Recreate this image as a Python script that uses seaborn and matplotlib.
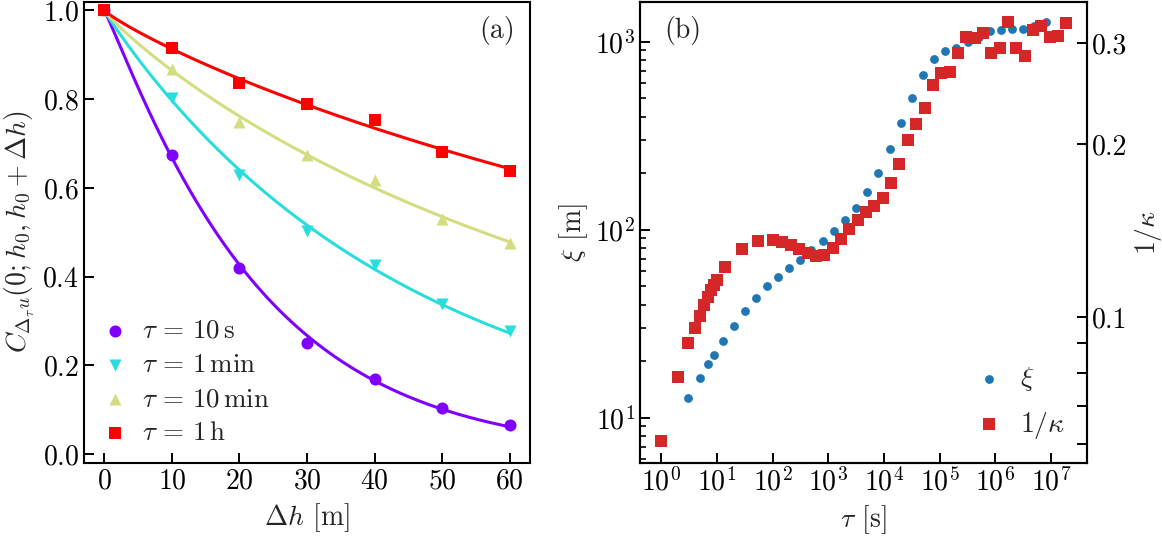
import numpy as np
import seaborn as sns
import matplotlib.pyplot as plt
from matplotlib.ticker import NullLocator, NullFormatter, LogLocator

# ---- panel (a): correlation vs height separation ----
dh = [0, 10, 20, 30, 40, 50, 60]
c_10s = [1.0, 0.675, 0.420, 0.251, 0.169, 0.103, 0.065]
c_1min = [1.0, 0.803, 0.628, 0.503, 0.427, 0.338, 0.278]
c_10min = [1.0, 0.868, 0.748, 0.675, 0.618, 0.530, 0.475]
c_1h = [1.0, 0.915, 0.836, 0.788, 0.754, 0.680, 0.637]
labels_a = [r"$\tau\,=\,10\,\mathrm{s}$", r"$\tau\,=\,1\,\mathrm{min}$",
            r"$\tau\,=\,10\,\mathrm{min}$", r"$\tau\,=\,1\,\mathrm{h}$"]

# ---- panel (b): xi and 1/kappa vs tau ----
tau_xi = [3.0, 5.0, 7.0, 9.1, 13.2, 20.2, 31.9, 50.2, 79.3, 125, 199, 314, 495,
          789, 1245, 1963, 3141, 4955, 7907, 12600, 19900, 31300, 49400, 79300,
          126000, 199000, 318000, 509000, 802000, 1.26e6, 2.02e6, 3.18e6,
          5.01e6, 7.91e6]
xi = [12.7, 16.3, 19.2, 21.6, 25.5, 30.6, 37.1, 43.4, 50.0, 56.2, 62.5, 69.3,
      78.0, 87.3, 98.9, 112.7, 130.0, 157.8, 199.5, 268.5, 370.7, 503.5, 665.3,
      805.4, 895.4, 929, 995, 1054, 1140, 1153, 1172, 1169, 1213, 1274]
tau_kappa = [1, 2, 3, 4, 5, 6, 7, 8, 9, 10, 14, 28, 56, 104, 149, 214, 305, 437,
             609, 847, 1195, 1690, 2383, 3357, 4753, 6700, 9440, 13430, 18700,
             27000, 38100, 53700, 76000, 107000, 151000, 214000, 301000, 425000,
             601000, 847000, 1.19e6, 1.69e6, 2.38e6, 3.36e6, 4.75e6, 6.7e6,
             9.44e6, 1.34e7, 1.88e7]
inv_kappa = [0.0608, 0.0787, 0.0902, 0.0956, 0.1006, 0.1049, 0.1083, 0.1115,
             0.1138, 0.1161, 0.1222, 0.1313, 0.1359, 0.1363, 0.1353, 0.1337,
             0.1313, 0.1292, 0.1279, 0.1283, 0.1321, 0.1367, 0.1424, 0.1476,
             0.1527, 0.1562, 0.1615, 0.1716, 0.1848, 0.2032, 0.2170, 0.2311,
             0.2538, 0.2660, 0.2671, 0.2888, 0.3080, 0.3061, 0.3122, 0.2888,
             0.2940, 0.3267, 0.2947, 0.2854, 0.3164, 0.3219, 0.3080, 0.3089,
             0.3250]

sns.set_style("ticks")
plt.rcParams.update({
    'font.family': 'serif', 'font.serif': ['cmr10'],
    'mathtext.fontset': 'cm', 'axes.formatter.use_mathtext': True,
    'axes.unicode_minus': False, 'font.size': 20,
    'axes.linewidth': 1.5,
    'xtick.direction': 'in', 'ytick.direction': 'in',
    'xtick.major.size': 7, 'ytick.major.size': 7,
    'xtick.minor.size': 4, 'ytick.minor.size': 4,
    'xtick.major.width': 1.4, 'ytick.major.width': 1.4,
    'xtick.minor.width': 1.2, 'ytick.minor.width': 1.2,
    'xtick.labelsize': 20, 'ytick.labelsize': 20, 'axes.labelsize': 20,
    'axes.edgecolor': 'black', 'xtick.color': 'black', 'ytick.color': 'black',
})


def stretched_fit(x, c):
    # fit exp(-(x/l)^b) to the measured points
    x = np.asarray(x[1:], float)
    c = np.asarray(c[1:], float)
    b, a = np.polyfit(np.log(x), np.log(-np.log(c)), 1)
    ell = np.exp(-a / b)
    xs = np.linspace(0, max(x), 300)
    return xs, np.exp(-(xs / ell) ** b)


fig = plt.figure(figsize=(11.62, 5.40), dpi=100)
ax = fig.add_axes([0.0723, 0.1426, 0.3838, 0.8546])
ax2 = fig.add_axes([0.5508, 0.1426, 0.3847, 0.8546])

colors = ['#7f00ff', '#2adddd', '#d4dd80', '#ff0000']
markers = ['o', 'v', '^', 's']
for c, col, m, lab in zip([c_10s, c_1min, c_10min, c_1h], colors, markers, labels_a):
    xs, ys = stretched_fit(dh, c)
    sns.lineplot(x=xs, y=ys, color=col, lw=2.2, ax=ax, legend=False, zorder=2)
    sns.scatterplot(x=dh, y=c, marker=m, color=col, s=75, linewidth=0,
                    label=lab, ax=ax, zorder=3)

ax.set_xlim(-3, 63)
ax.set_ylim(-0.02, 1.02)
ax.set_xticks(range(0, 61, 10))
ax.set_yticks([0.0, 0.2, 0.4, 0.6, 0.8, 1.0])
ax.set_xlabel(r"$\Delta h$ [m]", labelpad=5)
ax.set_ylabel(r"$C_{\Delta_\tau u}(0; h_0, h_0 + \Delta h)$")
ax.legend(loc='lower left', frameon=False, fontsize=19.5, handlelength=1.0,
          handletextpad=0.5, labelspacing=0.38, borderaxespad=0.25)
ax.text(0.926, 0.938, '(a)', transform=ax.transAxes, ha='center', va='center')

# panel (b)
ax2.set_xscale('log')
ax2.set_yscale('log')
sns.scatterplot(x=tau_xi, y=xi, color='#1f77b4', s=40, linewidth=0,
                label=r'$\xi$', ax=ax2, zorder=3)
tw = ax2.twinx()
tw.set_yscale('log')
sns.scatterplot(x=tau_kappa, y=inv_kappa, marker='s', color='#d62728', s=75,
                linewidth=0, label=r'$1/\kappa$', ax=tw, zorder=3)
for a in (ax2, tw):
    if a.get_legend() is not None:
        a.get_legend().remove()

ax2.set_xlim(0.42, 4.4e7)
ax2.set_xticks([10.0 ** k for k in range(8)])
ax2.xaxis.set_minor_locator(NullLocator())
ax2.set_ylim(5.74, 1637)
ax2.yaxis.set_minor_formatter(NullFormatter())
ax2.set_xlabel(r"$\tau$ [s]", labelpad=5)
ax2.set_ylabel(r"$\xi$ [m]")

tw.set_ylim(0.0557, 0.3548)
tw.set_yticks([0.1, 0.2, 0.3])
tw.set_yticklabels(['0.1', '0.2', '0.3'])
tw.yaxis.set_minor_locator(LogLocator(subs=np.arange(2, 10)))
tw.yaxis.set_minor_formatter(NullFormatter())
tw.tick_params(axis='y', which='both', direction='in', length=7, width=1.4)
tw.set_ylabel(r"$1/\kappa$", labelpad=4)
for s in tw.spines.values():
    s.set_linewidth(1.5)

h1, l1 = ax2.get_legend_handles_labels()
h2, l2 = tw.get_legend_handles_labels()
tw.legend(h1 + h2, l1 + l2, loc='lower right', frameon=False, fontsize=20,
          handlelength=1.0, handletextpad=0.6, labelspacing=0.6,
          borderaxespad=0.4)
ax2.text(0.096, 0.938, '(b)', transform=ax2.transAxes, ha='center', va='center')

fig.savefig('out.png', dpi=100)
